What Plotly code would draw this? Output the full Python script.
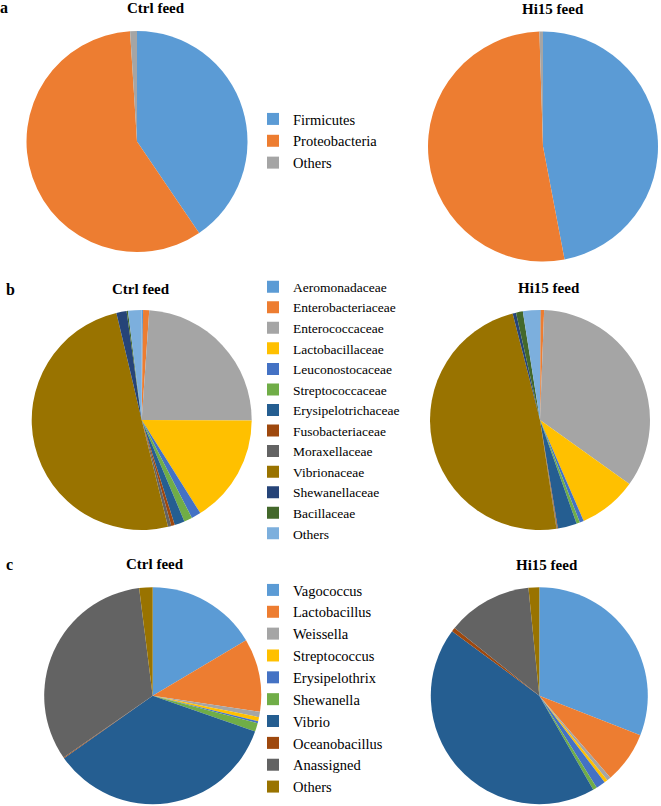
import plotly.graph_objects as go

W, H = 661, 806

# ---------------- data ----------------
phylum_labels = ["Firmicutes", "Proteobacteria", "Others"]
phylum_ctrl = [40.5, 58.5, 1.0]
phylum_hi15 = [47.0, 52.5, 0.5]
phylum_colors = ["#5B9BD5", "#ED7D31", "#A5A5A5"]

# zero-width spaces keep each panel's "Others" a separate legend entry
family_labels = ["Aeromonadaceae", "Enterobacteriaceae", "Enterococcaceae", "Lactobacillaceae",
                 "Leuconostocaceae", "Streptococcaceae", "Erysipelotrichaceae", "Fusobacteriaceae",
                 "Moraxellaceae", "Vibrionaceae", "Shewanellaceae", "Bacillaceae", "Others\u200b"]
family_ctrl = [0.2, 0.9, 24.0, 16.0, 1.4, 1.2, 1.5, 0.5, 0.5, 50.2, 1.5, 0.2, 2.0]
family_hi15 = [0.1, 0.5, 34.3, 8.6, 0.6, 0.5, 2.8, 0.1, 0.1, 48.4, 0.5, 1.0, 2.5]
family_colors = ["#5B9BD5", "#ED7D31", "#A5A5A5", "#FFC000", "#4472C4", "#70AD47", "#255E91",
                 "#9E480E", "#636363", "#997300", "#264478", "#43682B", "#7CAFDD"]

genus_labels = ["Vagococcus", "Lactobacillus", "Weissella", "Streptococcus", "Erysipelothrix",
                "Shewanella", "Vibrio", "Oceanobacillus", "Anassigned", "Others\u200b\u200b"]
genus_ctrl = [16.5, 10.9, 0.8, 0.6, 0.3, 1.3, 34.9, 0.1, 32.7, 2.0]
genus_hi15 = [31.0, 7.7, 0.6, 0.5, 1.4, 0.6, 43.5, 0.6, 12.7, 1.6]
genus_colors = ["#5B9BD5", "#ED7D31", "#A5A5A5", "#FFC000", "#4472C4", "#70AD47", "#255E91",
                "#9E480E", "#636363", "#997300"]

panel_letters = ["a", "b", "c"]
group_titles = ["Ctrl feed", "Hi15 feed"]

FONT = "Liberation Serif, Times New Roman, serif"


def dom(cx, cy, r):
    return dict(x=[(cx - r) / W, (cx + r) / W], y=[1 - (cy + r) / H, 1 - (cy - r) / H])


fig = go.Figure()

specs = [
    (phylum_labels, phylum_ctrl, phylum_colors, "legend", (137, 141.5, 110.5), True),
    (phylum_labels, phylum_hi15, phylum_colors, "legend", (543, 146.5, 115), False),
    (family_labels, family_ctrl, family_colors, "legend2", (141.7, 420, 110), True),
    (family_labels, family_hi15, family_colors, "legend2", (540, 420, 110), False),
    (genus_labels, genus_ctrl, genus_colors, "legend3", (152.7, 695.7, 108.5), True),
    (genus_labels, genus_hi15, genus_colors, "legend3", (539.3, 695.7, 108.5), False),
]

for labels, vals, cols, lg, (cx, cy, r), show in specs:
    fig.add_trace(go.Pie(
        labels=labels, values=vals, sort=False, direction="clockwise", rotation=0,
        marker=dict(colors=cols, line=dict(width=0)),
        textinfo="none", hoverinfo="label+percent",
        domain=dom(cx, cy, r), legend=lg, showlegend=show,
    ))

# titles and panel letters
title_pos = [((156, 8), (553, 9)), ((141, 289), (549, 288)), ((155, 564), (547, 565))]
letter_pos = [(4, 8), (10, 289), (9, 564)]
ann = []
for i, ((p1, p2), lp) in enumerate(zip(title_pos, letter_pos)):
    for t, (x, y) in zip(group_titles, (p1, p2)):
        ann.append(dict(text="<b>%s</b>" % t, x=x / W, y=1 - y / H, xref="paper", yref="paper",
                        showarrow=False, xanchor="center", yanchor="middle",
                        font=dict(family=FONT, size=15, color="#000000")))
    ann.append(dict(text="<b>%s</b>" % panel_letters[i], x=lp[0] / W, y=1 - lp[1] / H,
                    xref="paper", yref="paper", showarrow=False, xanchor="center",
                    yanchor="middle", font=dict(family=FONT, size=16, color="#000000")))


def legend_cfg(top, size):
    return dict(x=253 / W, y=1 - top / H, xanchor="left", yanchor="top",
                bgcolor="rgba(0,0,0,0)", borderwidth=0,
                font=dict(family=FONT, size=size, color="#000000"), traceorder="normal")


fig.update_layout(
    width=W, height=H, margin=dict(l=0, r=0, t=0, b=0),
    paper_bgcolor="white", plot_bgcolor="white",
    annotations=ann,
    legend=legend_cfg(103, 14.5),
    legend2=legend_cfg(271.4, 13.5),
    legend3=legend_cfg(574, 14.5),
)

fig.write_html("out.html", config={"displayModeBar": False},
               post_script="document.body.style.margin='0px';")
